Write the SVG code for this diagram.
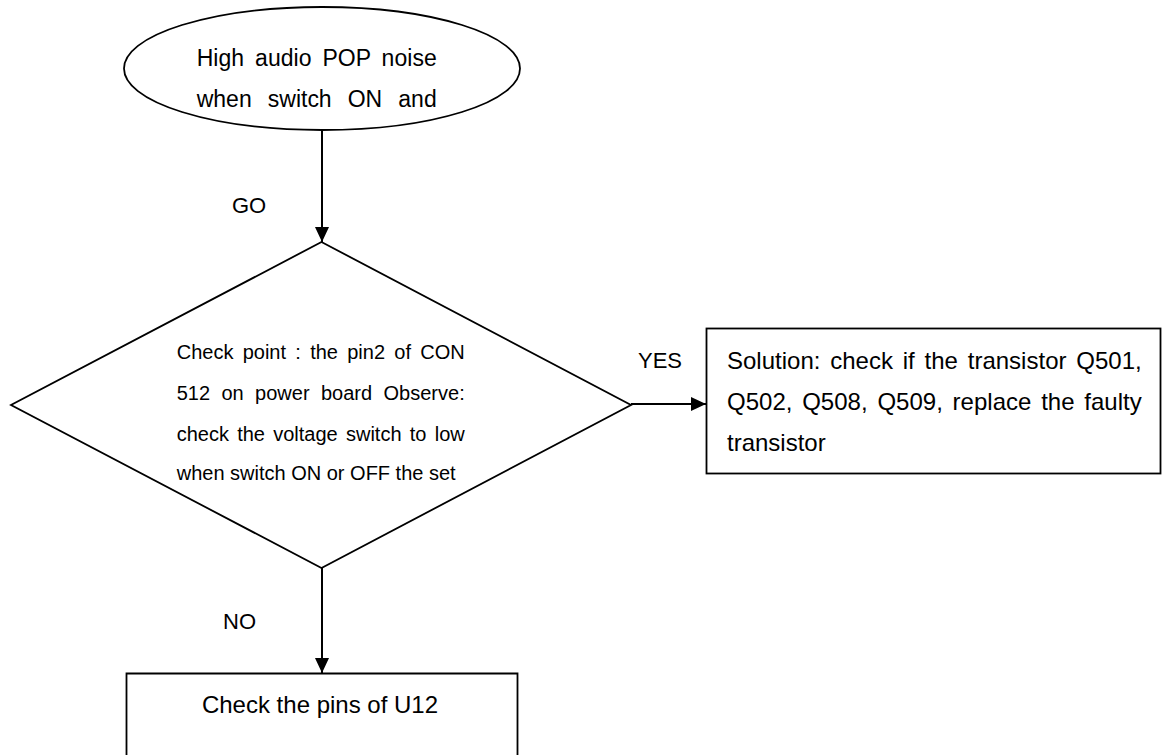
<svg xmlns="http://www.w3.org/2000/svg" width="1162" height="755" viewBox="0 0 1162 755">
<style>
.shape{fill:#fff;stroke:#000;stroke-width:1.8}
.conn{stroke:#000;stroke-width:2;fill:none}
text{font-family:"Liberation Sans",Arial,sans-serif;fill:#000}
.t23{font-size:23px}
.t22{font-size:22px}
.t20{font-size:20px}
.t24{font-size:24px}
</style>
<defs>
<marker id="arr" markerUnits="userSpaceOnUse" markerWidth="16" markerHeight="14" refX="15" refY="7" orient="auto">
<path d="M0,0 L15,7 L0,14 Z" fill="#000"/>
</marker>
</defs>
<rect width="1162" height="755" fill="#fff"/>
<g id="connectors">
<line class="conn" x1="322" y1="130" x2="322" y2="242" marker-end="url(#arr)"/>
<line class="conn" x1="631" y1="404" x2="706" y2="404" marker-end="url(#arr)"/>
<line class="conn" x1="322" y1="568" x2="322" y2="673" marker-end="url(#arr)"/>
<text class="t22" x="232" y="213">GO</text>
<text class="t22" x="638" y="368">YES</text>
<text class="t22" x="223" y="629">NO</text>
</g>
<g id="start">
<ellipse class="shape" cx="322" cy="68.5" rx="198" ry="61.5"/>
<text class="t23" x="196.7" y="66" word-spacing="4.5" textLength="240" lengthAdjust="spacing">High audio POP noise</text>
<text class="t23" x="196.7" y="107" word-spacing="9.7" textLength="240" lengthAdjust="spacing">when switch ON and</text>
</g>
<g id="decision">
<polygon class="shape" points="321.5,242 631,405 321.5,568 11,405"/>
<text class="t20" x="176.7" y="359" word-spacing="3.7" textLength="288" lengthAdjust="spacing">Check point : the pin2 of CON</text>
<text class="t20" x="176.7" y="400" word-spacing="5.8" textLength="288" lengthAdjust="spacing">512 on power board Observe:</text>
<text class="t20" x="176.7" y="441" word-spacing="2.7" textLength="288" lengthAdjust="spacing">check the voltage switch to low</text>
<text class="t20" x="176.7" y="480">when switch ON or OFF the set</text>
</g>
<g id="solution">
<rect class="shape" x="706.5" y="328.5" width="454" height="145"/>
<text class="t24" x="727" y="369" word-spacing="3.1" textLength="414.7" lengthAdjust="spacing">Solution: check if the transistor Q501,</text>
<text class="t24" x="727" y="410" word-spacing="3.1" textLength="414.7" lengthAdjust="spacing">Q502, Q508, Q509, replace the faulty</text>
<text class="t24" x="727" y="451">transistor</text>
</g>
<g id="check-u12">
<path class="shape" d="M126.5,760 V673.5 H517.5 V760"/>
<text class="t24" x="320" y="713" text-anchor="middle">Check the pins of U12</text>
</g>
</svg>
